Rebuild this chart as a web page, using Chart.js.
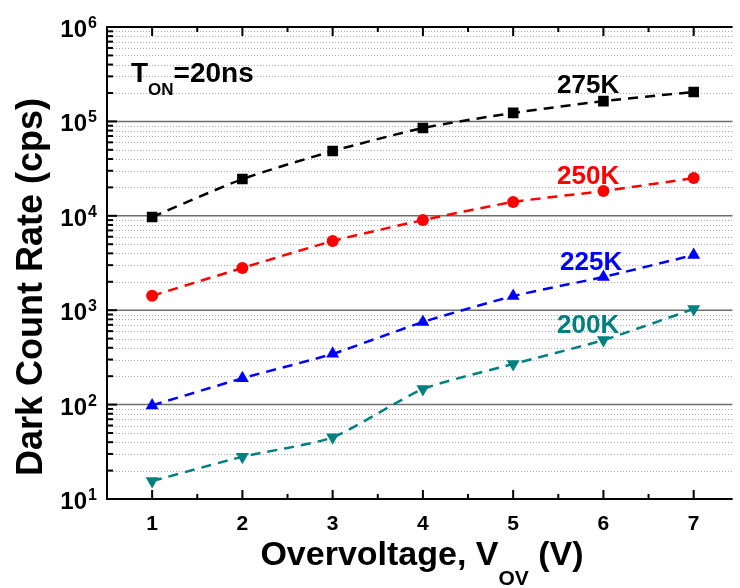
<!DOCTYPE html>
<html>
<head>
<meta charset="utf-8">
<script src="https://cdn.jsdelivr.net/npm/chart.js@4/dist/chart.umd.min.js"></script>
<style>
  html, body { margin: 0; padding: 0; background: #fff; overflow: hidden; }
  canvas { display: block; }
</style>
</head>
<body>
<canvas id="dcrChart" width="740" height="588"></canvas>
<script>
// overvoltage (V)
const vOv = [1, 2, 3, 4, 5, 6, 7];
// dark count rate (cps) per temperature
const dcr275 = [9700, 24500, 48500, 85000, 123000, 164000, 205000];
const dcr250 = [1420, 2800, 5400, 9000, 14000, 18300, 25100];
const dcr225 = [98, 190, 345, 750, 1410, 2250, 3840];
const dcr200 = [15.5, 28, 45, 146, 269, 483, 1030];
const seriesLabels = ["275K", "250K", "225K", "200K"];
const xTickValues = [1, 2, 3, 4, 5, 6, 7];
const yDecades = [1, 2, 3, 4, 5, 6];

const FONT = '"Liberation Sans", Arial, sans-serif';

function pts(ys) {
  return vOv.map((v, i) => ({ x: v, y: ys[i] }));
}

function series(label, ys, color, style, radius, rot) {
  return {
    label: label,
    data: pts(ys),
    borderColor: color,
    backgroundColor: color,
    borderWidth: 2.5,
    borderDash: [10, 7],
    tension: 0.2,
    pointStyle: style,
    pointRadius: radius,
    pointRotation: rot || 0,
    pointBorderWidth: 0,
  };
}

const gridPlugin = {
  id: "grid",
  beforeDatasetsDraw(chart) {
    const { ctx, chartArea: a, scales } = chart;
    const y = scales.y;
    ctx.save();
    for (let e = 1; e <= 6; e++) {
      for (let m = 2; m <= 9 && e < 6; m++) {
        const py = Math.round(y.getPixelForValue(m * Math.pow(10, e))) + 0.5;
        ctx.strokeStyle = "#a8a8a8";
        ctx.lineWidth = 1;
        ctx.setLineDash([1, 2]);
        ctx.beginPath();
        ctx.moveTo(a.left, py);
        ctx.lineTo(a.right, py);
        ctx.stroke();
      }
      const py = y.getPixelForValue(Math.pow(10, e));
      ctx.setLineDash([]);
      ctx.strokeStyle = "#6e6e6e";
      ctx.lineWidth = 1.5;
      ctx.beginPath();
      ctx.moveTo(a.left, py);
      ctx.lineTo(a.right, py);
      ctx.stroke();
    }
    ctx.restore();
  },
  afterDatasetsDraw(chart) {
    const { ctx, chartArea: a, scales } = chart;
    const x = scales.x, y = scales.y;
    ctx.save();
    ctx.strokeStyle = "#000";
    ctx.lineWidth = 2;
    ctx.beginPath();
    ctx.moveTo(a.right, a.top);
    ctx.lineTo(a.left, a.top);
    ctx.lineTo(a.left, a.bottom);
    ctx.lineTo(a.right, a.bottom);
    ctx.stroke();
    // x ticks, bottom and top, pointing in
    for (let v = 0.5; v <= 7.5; v += 0.5) {
      const px = x.getPixelForValue(v);
      if (px < a.left + 1 || px > a.right) continue;
      const len = Number.isInteger(v) ? 9 : 5;
      ctx.beginPath();
      ctx.moveTo(px, a.bottom);
      ctx.lineTo(px, a.bottom - len);
      ctx.moveTo(px, a.top);
      ctx.lineTo(px, a.top + len);
      ctx.stroke();
    }
    // y ticks on left
    for (let e = 1; e <= 6; e++) {
      for (let m = 1; m <= 9; m++) {
        if (e === 6 && m > 1) break;
        const py = y.getPixelForValue(m * Math.pow(10, e));
        const len = m === 1 ? 10 : 6;
        ctx.beginPath();
        ctx.moveTo(a.left, py);
        ctx.lineTo(a.left + len, py);
        ctx.stroke();
      }
    }
    ctx.restore();
  },
  afterDraw(chart) {
    const { ctx, scales } = chart;
    const x = scales.x, y = scales.y;
    ctx.save();
    ctx.fillStyle = "#000";
    ctx.textBaseline = "alphabetic";

    // y tick labels 10^n
    yDecades.forEach((e) => {
      const py = y.getPixelForValue(Math.pow(10, e));
      ctx.font = "bold 24px " + FONT;
      ctx.textAlign = "right";
      ctx.fillText("10", 87, py + 10);
      ctx.font = "bold 16px " + FONT;
      ctx.textAlign = "left";
      ctx.fillText(String(e), 88, py + 1);
    });

    // x tick labels
    ctx.font = "bold 21px " + FONT;
    ctx.textAlign = "center";
    xTickValues.forEach((v) => {
      ctx.fillText(String(v), x.getPixelForValue(v), 530);
    });

    // y title
    ctx.save();
    ctx.translate(42, 287);
    ctx.rotate(-Math.PI / 2);
    ctx.font = "bold 36px " + FONT;
    ctx.textAlign = "center";
    ctx.fillText("Dark Count Rate (cps)", 0, 0);
    ctx.restore();

    // x title with subscript
    ctx.textAlign = "left";
    const mainF = "bold 34px " + FONT, subF = "bold 21px " + FONT;
    const parts = [["Overvoltage, V", mainF, 0], ["OV", subF, 20], [" (V)", mainF, 0]];
    let total = 0;
    parts.forEach((p) => { ctx.font = p[1]; total += ctx.measureText(p[0]).width; });
    let cx = 422 - total / 2;
    parts.forEach((p) => {
      ctx.font = p[1];
      ctx.fillText(p[0], cx, 565 + p[2]);
      cx += ctx.measureText(p[0]).width;
    });

    // T_ON=20ns
    let tx = 131;
    ctx.font = "bold 28px " + FONT;
    ctx.fillText("T", tx, 82);
    tx += ctx.measureText("T").width;
    ctx.font = "bold 17px " + FONT;
    ctx.fillText("ON", tx, 95);
    tx += ctx.measureText("ON").width;
    ctx.font = "bold 28px " + FONT;
    ctx.fillText("=20ns", tx, 82);

    // series labels
    ctx.font = "bold 26px " + FONT;
    const labelPos = [[557, 93], [557, 184], [560, 270], [557, 333]];
    chart.data.datasets.forEach((ds, i) => {
      ctx.fillStyle = ds.borderColor;
      ctx.fillText(seriesLabels[i], labelPos[i][0], labelPos[i][1]);
    });
    ctx.restore();
  },
};

const ctx = document.getElementById("dcrChart").getContext("2d");
new Chart(ctx, {
  type: "line",
  data: {
    datasets: [
      series(seriesLabels[0], dcr275, "#000000", "rect", 7.5),
      series(seriesLabels[1], dcr250, "#ff0000", "circle", 6),
      series(seriesLabels[2], dcr225, "#0000ff", "triangle", 7.5),
      series(seriesLabels[3], dcr200, "#008080", "triangle", 7.5, 180),
    ],
  },
  options: {
    responsive: false,
    animation: false,
    layout: { padding: { left: 107, top: 27, right: 0, bottom: 89 } },
    plugins: { legend: { display: false }, tooltip: { enabled: false } },
    scales: {
      x: { type: "linear", min: 0.5, max: 7.43, display: false },
      y: { type: "logarithmic", min: 10, max: 1000000, display: false },
    },
  },
  plugins: [gridPlugin],
});
</script>
</body>
</html>
